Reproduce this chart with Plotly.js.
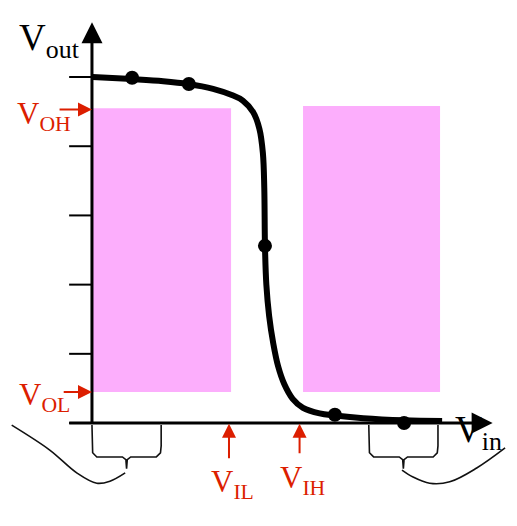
<!DOCTYPE html>
<html>
<head>
<meta charset="utf-8">
<script src="https://cdn.plot.ly/plotly-3.0.1.min.js"></script>
<style>html,body{margin:0;padding:0;background:#fff;}#chart{width:517px;height:526px;}</style>
</head>
<body>
<div id="chart"></div>
<script>
// Transfer curve of an inverter (Vout vs Vin), values in volts
const vin  = [0.01, 0.58, 1.03, 1.39, 1.75, 2.02, 2.18, 2.33, 2.42, 2.47, 2.49, 2.50, 2.52, 2.56, 2.62, 2.69, 2.78, 2.90, 3.05, 3.29, 3.51, 3.92, 4.51, 5.06];
const vout = [5.00, 4.97, 4.94, 4.90, 4.83, 4.74, 4.66, 4.49, 4.25, 3.90, 3.40, 2.56, 2.00, 1.55, 1.15, 0.82, 0.56, 0.35, 0.22, 0.14, 0.11, 0.07, 0.04, 0.03];
// highlighted points on the curve
const markVin  = [0.58, 1.40, 2.50, 3.51, 4.51];
const markVout = [4.99, 4.90, 2.56, 0.12, 0.00];
// level markers
const VOH = 4.53, VOL = 0.45, VIL = 1.98, VIH = 3.00;
// shaded regions (Vin range, Vout range)
const regionVin0  = [0.00, 3.05];
const regionVin1  = [2.01, 5.03];
const regionVout0 = [0.45, 0.45];
const regionVout1 = [4.55, 4.58];
// y tick values
const yTicks = [0, 1, 2, 3, 4, 5];
// brace ranges on the Vin axis
const braceRanges = [[0, 1], [4, 5]];
// connector squiggles
const squiggleLeftX  = [-1.16, -0.61, -0.22, 0.07, 0.26, 0.48];
const squiggleLeftY  = [-0.03, -0.39, -0.72, -0.87, -0.84, -0.72];
const squiggleRightX = [4.48, 4.64, 4.88, 5.17, 5.56, 5.97];
const squiggleRightY = [-0.68, -0.78, -0.87, -0.85, -0.65, -0.36];
const axisEnd = 5.79;

const RED = '#dc1e00';
const PINK = '#fcaefc';
const FONT = 'Liberation Serif, DejaVu Serif, serif';

const traces = [];

// tick marks on Vout axis
const tx = [], ty = [];
yTicks.forEach(t => { tx.push(-0.33, 0, null); ty.push(t, t, null); });
traces.push({x: tx, y: ty, mode: 'lines', line: {color: '#000', width: 2}, hoverinfo: 'skip'});

// braces
braceRanges.forEach(([a, b]) => {
  const m = (a + b) / 2;
  traces.push({
    x: [a, a, a + 0.01, a + 0.07, m - 0.06, m - 0.01, m, m + 0.01, m + 0.06, b - 0.07, b - 0.01, b, b],
    y: [-0.03, -0.33, -0.43, -0.49, -0.49, -0.53, -0.66, -0.53, -0.49, -0.49, -0.43, -0.33, -0.03],
    mode: 'lines', line: {color: '#111', width: 1.6}, hoverinfo: 'skip'
  });
});

// squiggles
traces.push({x: squiggleLeftX, y: squiggleLeftY, mode: 'lines', line: {color: '#111', width: 1.6, shape: 'spline'}, hoverinfo: 'skip'});
traces.push({x: squiggleRightX, y: squiggleRightY, mode: 'lines', line: {color: '#111', width: 1.6, shape: 'spline'}, hoverinfo: 'skip'});

// transfer curve
traces.push({x: vin, y: vout, mode: 'lines', line: {color: '#000', width: 6, shape: 'spline', smoothing: 1}, hoverinfo: 'skip'});
traces.push({x: markVin, y: markVout, mode: 'markers', marker: {color: '#000', size: 14}, hoverinfo: 'skip'});

// shaded regions as shapes
const shapes = regionVin0.map((x0, i) => ({
  type: 'rect', xref: 'x', yref: 'y', layer: 'below',
  x0: x0, x1: regionVin1[i], y0: regionVout0[i], y1: regionVout1[i],
  fillcolor: PINK, line: {width: 0}
}));

function arrow(x, y, ax, ay, color, width, head, size) {
  return {x: x, y: y, ax: ax, ay: ay, xref: 'x', yref: 'y', axref: 'x', ayref: 'y',
    text: '', showarrow: true, arrowcolor: color, arrowwidth: width, arrowhead: head, arrowsize: size, standoff: 0, startstandoff: 0};
}
function label(text, x, y, size, color) {
  return {x: x, y: y, xref: 'x', yref: 'y', text: text, showarrow: false,
    xanchor: 'center', yanchor: 'middle', font: {family: FONT, size: size, color: color}};
}

const annotations = [
  arrow(0, axisEnd, 0, -0.02, '#000', 3, 2, 1.4),
  arrow(axisEnd, 0, -0.35, 0, '#000', 3, 2, 1.4),
  arrow(0, VOH, -0.49, VOH, RED, 2, 2, 1.4),
  arrow(0, VOL, -0.43, VOL, RED, 2, 2, 1.4),
  arrow(VIL, -0.01, VIL, -0.53, RED, 2, 2, 1.4),
  arrow(VIH, -0.01, VIH, -0.46, RED, 2, 2, 1.4),
  label('V<sub>out</sub>', -0.61, 5.53, 37, '#000'),
  label('V<sub>in</sub>', 5.58, -0.13, 37, '#000'),
  label('V<sub>OH</sub>', -0.70, 4.43, 31, RED),
  label('V<sub>OL</sub>', -0.68, 0.37, 31, RED),
  label('V<sub>IL</sub>', 2.03, -0.88, 31, RED),
  label('V<sub>IH</sub>', 3.05, -0.82, 31, RED)
];

const layout = {
  width: 517, height: 526,
  margin: {l: 0, r: 0, t: 0, b: 0},
  paper_bgcolor: '#fff', plot_bgcolor: '#fff',
  showlegend: false,
  xaxis: {range: [-1.329, 6.142], visible: false, fixedrange: true},
  yaxis: {range: [-1.488, 6.113], visible: false, fixedrange: true},
  shapes: shapes,
  annotations: annotations
};

Plotly.newPlot('chart', traces, layout, {staticPlot: true, displayModeBar: false});
</script>
</body>
</html>
